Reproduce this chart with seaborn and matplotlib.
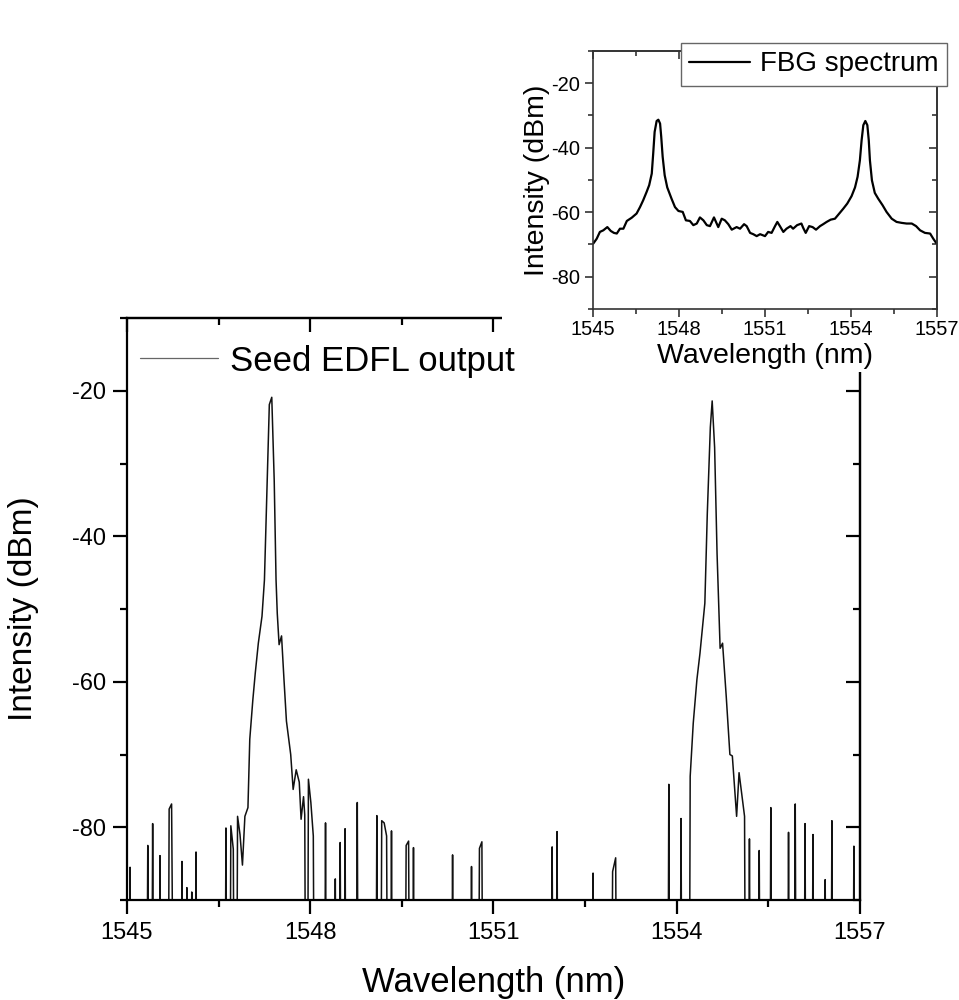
import matplotlib
matplotlib.use("Agg")
import matplotlib.pyplot as plt
import seaborn as sns
from matplotlib.ticker import MultipleLocator
from matplotlib.patches import Rectangle

# ---------------- data ----------------
# Seed EDFL output (main panel): wavelength (nm) and intensity (dBm); -100 = OSA noise floor (below axis)
main_wl = [
    1545.00, 1545.04, 1545.05, 1545.06,
    1545.33, 1545.34, 1545.35,
    1545.41, 1545.42, 1545.43,
    1545.53, 1545.54, 1545.55,
    1545.68, 1545.69, 1545.73, 1545.75,
    1545.89, 1545.90, 1545.91,
    1545.97, 1545.98, 1545.99,
    1546.05, 1546.06, 1546.07,
    1546.12, 1546.13, 1546.14,
    1546.61, 1546.62, 1546.63,
    1546.69, 1546.70, 1546.74, 1546.75,
    1546.80, 1546.81, 1546.85, 1546.89, 1546.93, 1546.98, 1547.01, 1547.06,
    1547.10, 1547.15, 1547.21, 1547.25, 1547.29, 1547.33, 1547.37, 1547.41,
    1547.44, 1547.46, 1547.49, 1547.53, 1547.57, 1547.61, 1547.68, 1547.72,
    1547.77, 1547.82, 1547.85, 1547.89, 1547.91, 1547.92,
    1547.96, 1547.97, 1548.01, 1548.05, 1548.06,
    1548.24, 1548.25, 1548.26,
    1548.40, 1548.41, 1548.42,
    1548.48, 1548.49, 1548.50,
    1548.56, 1548.57, 1548.58,
    1548.76, 1548.77, 1548.78,
    1549.08, 1549.09, 1549.10,
    1549.16, 1549.17, 1549.21, 1549.25, 1549.26,
    1549.32, 1549.33, 1549.34,
    1549.56, 1549.57, 1549.61, 1549.62,
    1549.68, 1549.69, 1549.70,
    1550.32, 1550.33, 1550.34,
    1550.63, 1550.64, 1550.65,
    1550.76, 1550.77, 1550.81, 1550.82,
    1551.95, 1551.96, 1551.97,
    1552.03, 1552.04, 1552.05,
    1552.62, 1552.63, 1552.64,
    1552.94, 1552.95, 1553.00, 1553.01,
    1553.86, 1553.87, 1553.88,
    1554.06, 1554.07, 1554.08,
    1554.21, 1554.22, 1554.27, 1554.33, 1554.38, 1554.46, 1554.50, 1554.55,
    1554.58, 1554.62, 1554.66, 1554.71, 1554.75, 1554.81, 1554.87, 1554.91,
    1554.98, 1555.02, 1555.11, 1555.12,
    1555.18, 1555.19, 1555.20,
    1555.34, 1555.35, 1555.36,
    1555.53, 1555.54, 1555.55,
    1555.82, 1555.83, 1555.84,
    1555.93, 1555.94, 1555.95,
    1556.09, 1556.10, 1556.11,
    1556.22, 1556.23, 1556.24,
    1556.42, 1556.43, 1556.44,
    1556.53, 1556.54, 1556.55,
    1556.89, 1556.90, 1556.91,
    1557.00,
]
main_db = [
    -100, -100, -85.5, -100,
    -100, -82.5, -100,
    -100, -79.5, -100,
    -100, -83.9, -100,
    -100, -77.5, -76.8, -100,
    -100, -84.7, -100,
    -100, -88.3, -100,
    -100, -88.9, -100,
    -100, -83.4, -100,
    -100, -80.1, -100,
    -100, -79.8, -83.0, -100,
    -100, -78.5, -81.0, -85.2, -78.5, -77.3, -67.9, -62.5,
    -58.8, -54.7, -51.0, -46.0, -33.7, -21.9, -20.9, -32.3,
    -46.0, -50.6, -54.9, -53.7, -59.7, -65.4, -70.0, -74.8,
    -72.1, -73.8, -78.9, -75.8, -78.3, -100,
    -100, -73.4, -76.6, -81.2, -100,
    -100, -79.4, -100,
    -100, -87.1, -100,
    -100, -82.1, -100,
    -100, -80.2, -100,
    -100, -76.6, -100,
    -100, -78.4, -100,
    -100, -79.1, -79.4, -81.2, -100,
    -100, -80.5, -100,
    -100, -82.5, -81.9, -100,
    -100, -82.8, -100,
    -100, -83.8, -100,
    -100, -85.4, -100,
    -100, -82.9, -82.0, -100,
    -100, -82.7, -100,
    -100, -80.6, -100,
    -100, -86.3, -100,
    -100, -86.1, -84.2, -100,
    -100, -74.1, -100,
    -100, -78.8, -100,
    -100, -73.0, -65.7, -59.7, -56.1, -49.2, -36.9, -25.0,
    -21.4, -27.8, -42.4, -55.4, -54.7, -62.0, -70.0, -70.2,
    -78.5, -72.5, -78.5, -100,
    -100, -81.6, -100,
    -100, -83.2, -100,
    -100, -77.3, -100,
    -100, -80.7, -100,
    -100, -76.8, -100,
    -100, -79.5, -100,
    -100, -81.0, -100,
    -100, -87.2, -100,
    -100, -79.1, -100,
    -100, -82.6, -100,
    -100,
]

# FBG spectrum (inset)
fbg_wl = [
    1545.01, 1545.13, 1545.24, 1545.36, 1545.50, 1545.62, 1545.73, 1545.83,
    1545.94, 1546.06, 1546.18, 1546.35, 1546.52, 1546.64, 1546.75, 1546.87,
    1546.96, 1547.05, 1547.10, 1547.15, 1547.22, 1547.28, 1547.34, 1547.38,
    1547.43, 1547.50, 1547.59, 1547.74, 1547.86, 1547.98, 1548.13, 1548.24,
    1548.38, 1548.50, 1548.62, 1548.73, 1548.85, 1548.97, 1549.08, 1549.22,
    1549.29, 1549.37, 1549.49, 1549.60, 1549.72, 1549.84, 1550.01, 1550.13,
    1550.27, 1550.36, 1550.48, 1550.59, 1550.71, 1550.83, 1551.00, 1551.11,
    1551.23, 1551.35, 1551.43, 1551.52, 1551.64, 1551.75, 1551.89, 1551.98,
    1552.12, 1552.27, 1552.33, 1552.42, 1552.54, 1552.66, 1552.78, 1552.92,
    1553.03, 1553.15, 1553.29, 1553.44, 1553.59, 1553.73, 1553.87, 1554.02,
    1554.14, 1554.23, 1554.31, 1554.37, 1554.43, 1554.50, 1554.57, 1554.62,
    1554.66, 1554.73, 1554.83, 1554.95, 1555.10, 1555.24, 1555.42, 1555.59,
    1555.77, 1555.94, 1556.12, 1556.27, 1556.41, 1556.58, 1556.76, 1556.87,
    1556.97,
]
fbg_db = [
    -69.7, -68.2, -66.1, -65.6, -64.6, -65.8, -66.4, -66.6,
    -65.1, -65.1, -62.7, -61.7, -60.4, -58.4, -56.3, -53.7,
    -51.6, -48.0, -41.8, -35.1, -31.7, -31.3, -32.5, -36.6,
    -42.8, -48.5, -52.3, -55.8, -58.4, -59.6, -59.9, -62.5,
    -62.7, -64.0, -63.5, -61.6, -62.5, -64.0, -64.3, -61.6,
    -63.0, -64.6, -62.0, -62.5, -63.7, -65.4, -64.6, -65.1,
    -63.7, -64.3, -66.4, -66.8, -67.4, -66.8, -67.4, -66.1,
    -66.4, -64.3, -63.0, -64.3, -66.1, -65.1, -64.3, -65.1,
    -64.0, -63.5, -64.8, -66.4, -64.3, -64.6, -65.4, -64.3,
    -63.7, -63.0, -62.3, -62.0, -60.4, -58.9, -57.3, -55.0,
    -52.3, -49.0, -43.9, -37.7, -33.0, -31.7, -33.0, -37.7,
    -43.9, -50.1, -54.0, -55.8, -57.8, -59.9, -62.0, -63.0,
    -63.3, -63.5, -63.5, -64.3, -65.6, -66.4, -66.6, -68.2,
    -69.5,
]

x_ticks = [1545, 1548, 1551, 1554, 1557]
y_ticks = [-20, -40, -60, -80]
main_label = "Seed EDFL output"
fbg_label = "FBG spectrum"
x_title = "Wavelength (nm)"
y_title = "Intensity (dBm)"

# ---------------- style ----------------
sns.set_style("ticks")
plt.rcParams["font.family"] = ["Liberation Sans", "DejaVu Sans"]
for k in ["text.color", "axes.labelcolor", "xtick.color", "ytick.color", "axes.edgecolor"]:
    plt.rcParams[k] = "black"

W, H = 959, 1000
fig = plt.figure(figsize=(W / 100, H / 100), dpi=100)


def style_axes(a, lw, maj, mnr, lsize, pad_x, pad_y, ecol):
    a.set_xlim(1545, 1557)
    a.set_ylim(-90, -10)
    a.set_xticks(x_ticks)
    a.set_yticks(y_ticks)
    a.xaxis.set_minor_locator(MultipleLocator(1.5))
    a.yaxis.set_minor_locator(MultipleLocator(10))
    a.tick_params(axis="both", which="major", direction="out", length=maj, width=lw,
                  labelsize=lsize, top=False, right=False, colors=ecol, labelcolor="black")
    a.tick_params(axis="both", which="minor", direction="out", length=mnr, width=lw,
                  top=False, right=False, colors=ecol)
    a.tick_params(axis="x", which="major", pad=pad_x)
    a.tick_params(axis="y", which="major", pad=pad_y)
    for s in a.spines.values():
        s.set_linewidth(lw)
        s.set_color(ecol)
    # top / right ticks pointing inward
    sx = a.secondary_xaxis("top")
    sx.set_xticks(x_ticks)
    sx.xaxis.set_minor_locator(MultipleLocator(1.5))
    sx.tick_params(axis="x", which="major", direction="in", length=maj, width=lw,
                   labeltop=False, colors=ecol)
    sx.tick_params(axis="x", which="minor", direction="in", length=mnr, width=lw, colors=ecol)
    sx.spines["top"].set_linewidth(lw)
    sx.spines["top"].set_color(ecol)
    sy = a.secondary_yaxis("right")
    sy.set_yticks(y_ticks)
    sy.yaxis.set_minor_locator(MultipleLocator(10))
    sy.tick_params(axis="y", which="major", direction="in", length=maj, width=lw,
                   labelright=False, colors=ecol)
    sy.tick_params(axis="y", which="minor", direction="in", length=mnr, width=lw, colors=ecol)
    sy.spines["right"].set_linewidth(lw)
    sy.spines["right"].set_color(ecol)


# ---------------- main panel ----------------
ax = fig.add_axes([127 / W, 1 - 900 / H, 733 / W, 582 / H])
sns.lineplot(x=main_wl, y=main_db, ax=ax, estimator=None, sort=False,
             color="#111111", linewidth=1.1, label=main_label)
style_axes(ax, 1.6, 10, 5, 17, 6, 5, "black")
ax.set_xticklabels([str(t) for t in x_ticks])
ax.set_yticklabels([str(t) for t in y_ticks])
ax.set_xlabel(x_title, fontsize=25)
ax.set_ylabel(y_title, fontsize=24)
ax.xaxis.set_label_coords(0.5, -0.114)
ax.yaxis.set_label_coords(-0.12, 0.5)
handles, labels = ax.get_legend_handles_labels()
ax.get_legend().remove()
leg = fig.legend(handles, labels, loc="center left", bbox_to_anchor=(140 / W, 1 - 361 / H),
                 frameon=False, fontsize=25, handlelength=2.25, handletextpad=0.35,
                 borderpad=0, borderaxespad=0)
leg.get_lines()[0].set_color("#666666")
leg.get_lines()[0].set_linewidth(0.9)
leg.set_zorder(6)

# white backdrop of the pasted inset
fig.add_artist(Rectangle((502 / W, 1 - 372 / H), 1 - 502 / W, 372 / H,
                         transform=fig.transFigure, facecolor="white",
                         edgecolor="none", zorder=1))

# ---------------- inset ----------------
axin = fig.add_axes([593 / W, 1 - 309 / H, 344 / W, 258 / H], zorder=2)
axin.patch.set_facecolor("white")
sns.lineplot(x=fbg_wl, y=fbg_db, ax=axin, estimator=None, sort=False,
             color="black", linewidth=1.6, label=fbg_label)
style_axes(axin, 1.2, 6, 3.5, 14.5, 2, 3.5, "#333333")
axin.set_xticklabels([str(t) for t in x_ticks])
axin.set_yticklabels([str(t) for t in y_ticks])
axin.set_xlabel(x_title, fontsize=20.5)
axin.set_ylabel(y_title, fontsize=20.5)
axin.xaxis.set_label_coords(0.5, -0.13)
axin.yaxis.set_label_coords(-0.125, 0.5)
lg2 = axin.legend(loc="upper right", bbox_to_anchor=(947 / W, 1 - 43 / H),
                  bbox_transform=fig.transFigure, fontsize=20, frameon=True,
                  fancybox=False, borderpad=0.3, handlelength=2.2, handletextpad=0.35,
                  borderaxespad=0)
lg2.get_frame().set_edgecolor("#666666")
lg2.get_frame().set_linewidth(1.0)
lg2.get_frame().set_alpha(1)

fig.savefig("out.png", dpi=100)
